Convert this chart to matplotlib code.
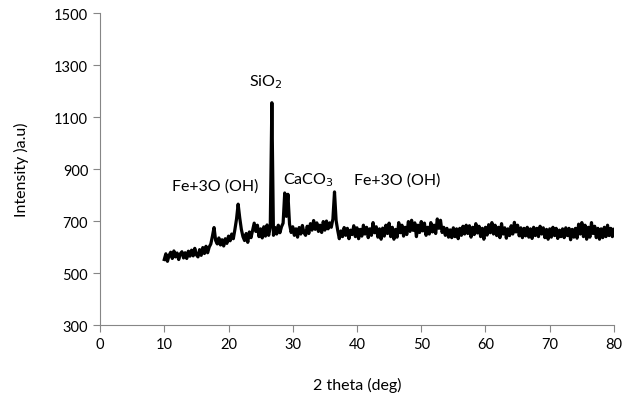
import numpy as np
import matplotlib
matplotlib.use("Agg")
import matplotlib.pyplot as plt

plt.rcParams['font.family'] = ['Lato', 'DejaVu Sans']

# XRD intensities, 0.25 deg step from 10 to 80 deg
two_theta_start = 10.0
two_theta_step = 0.25
intensity = [
    552, 574, 545, 568,   # 10
    580, 556, 585, 562,   # 11
    577, 552, 574, 582,   # 12
    558, 578, 556, 584,   # 13
    565, 588, 566, 595,   # 14
    570, 562, 590, 568,   # 15
    598, 575, 603, 578,   # 16
    600, 612, 642, 675,   # 17
    625, 612, 635, 608,   # 18
    628, 604, 632, 614,   # 19
    642, 624, 650, 632,   # 20
    668, 708, 765, 712,   # 21
    668, 640, 625, 652,   # 22
    618, 658, 636, 665,   # 23
    692, 660, 684, 640,   # 24
    670, 635, 678, 642,   # 25
    685, 645, 675, 1155,  # 26
    645, 675, 650, 684,   # 27
    655, 678, 692, 808,   # 28
    718, 803, 688, 656,   # 29
    678, 645, 670, 638,   # 30
    675, 650, 683, 655,   # 31
    645, 680, 652, 690,   # 32
    665, 702, 668, 693,   # 33
    660, 684, 656, 698,   # 34
    665, 700, 670, 693,   # 35
    676, 708, 812, 702,   # 36
    664, 632, 662, 640,   # 37
    675, 645, 672, 632,   # 38
    665, 648, 682, 640,   # 39
    674, 632, 668, 642,   # 40
    684, 650, 676, 636,   # 41
    670, 645, 694, 655,   # 42
    678, 638, 670, 630,   # 43
    673, 642, 684, 652,   # 44
    692, 640, 676, 630,   # 45
    668, 638, 694, 655,   # 46
    684, 642, 676, 648,   # 47
    698, 660, 703, 664,   # 48
    693, 640, 684, 656,   # 49
    698, 662, 692, 645,   # 50
    676, 650, 694, 658,   # 51
    684, 652, 708, 672,   # 52
    703, 656, 676, 645,   # 53
    672, 638, 666, 636,   # 54
    674, 640, 670, 632,   # 55
    672, 645, 680, 650,   # 56
    684, 652, 682, 638,   # 57
    676, 648, 690, 654,   # 58
    680, 640, 672, 630,   # 59
    676, 646, 686, 655,   # 60
    694, 650, 684, 644,   # 61
    676, 636, 690, 650,   # 62
    674, 634, 670, 644,   # 63
    682, 650, 695, 658,   # 64
    684, 643, 674, 636,   # 65
    672, 643, 676, 638,   # 66
    670, 633, 676, 644,   # 67
    672, 640, 680, 650,   # 68
    674, 636, 668, 630,   # 69
    670, 638, 676, 644,   # 70
    672, 633, 665, 640,   # 71
    670, 636, 674, 644,   # 72
    672, 628, 668, 638,   # 73
    672, 634, 688, 650,   # 74
    694, 640, 684, 630,   # 75
    676, 638, 694, 652,   # 76
    680, 636, 672, 630,   # 77
    670, 636, 676, 640,   # 78
    684, 644, 672, 640,   # 79
    668,                  # 80
]
two_theta = two_theta_start + two_theta_step * np.arange(len(intensity))

# peak labels: text, x, y
peak_labels = ["Fe+3O (OH)", "SiO$_2$", "CaCO$_3$", "Fe+3O (OH)"]
label_x = [17.9, 25.8, 32.4, 46.2]
label_y = [835, 1240, 862, 858]

fig = plt.figure(figsize=(6.31, 4.02), dpi=100)
ax = fig.add_axes([0.1585, 0.189, 0.8145, 0.776])
ax.plot(two_theta, intensity, color='black', linewidth=2.3)

for t, x, y in zip(peak_labels, label_x, label_y):
    ax.text(x, y, t, ha='center', va='center', fontsize=11.5, color='black')

ax.set_xlim(0, 80)
ax.set_ylim(300, 1500)
ax.set_xticks(range(0, 81, 10))
ax.set_yticks(range(300, 1501, 200))
for s in ['top', 'right']:
    ax.spines[s].set_visible(False)
for s in ['left', 'bottom']:
    ax.spines[s].set_color('#868686')
ax.tick_params(direction='out', length=5, color='#868686', labelsize=10.5)
ax.set_xlabel('2 theta (deg)', fontsize=11.5)
ax.set_ylabel('Intensity )a.u)', fontsize=11.5)
ax.xaxis.set_label_coords(0.5, -0.165)
ax.yaxis.set_label_coords(-0.138, 0.5)

fig.savefig('out.png', dpi=100)
